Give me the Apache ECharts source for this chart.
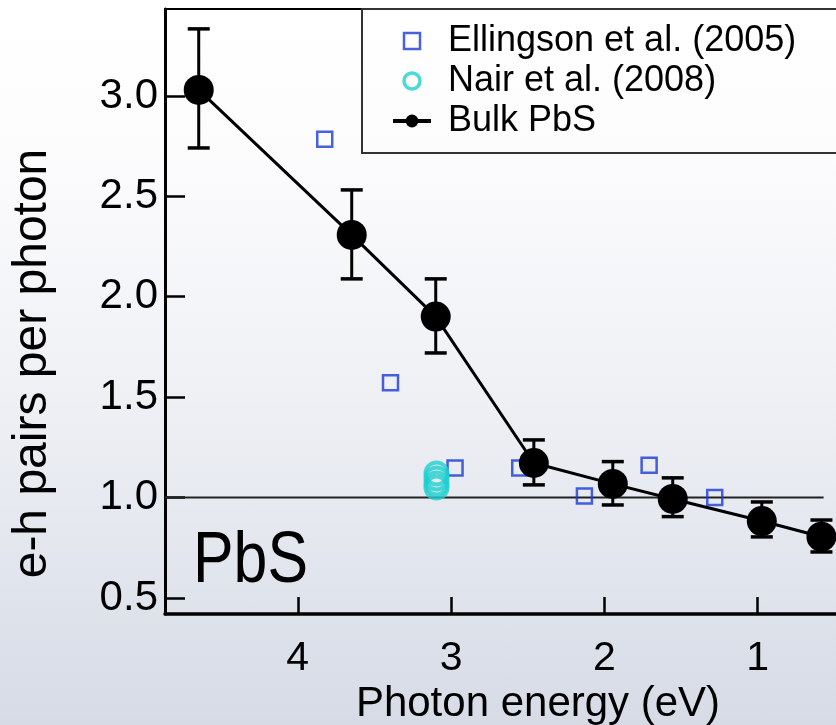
<!DOCTYPE html>
<html>
<head>
<meta charset="utf-8">
<script src="https://cdn.jsdelivr.net/npm/echarts@6/dist/echarts.min.js"></script>
<style>
  html, body { margin: 0; padding: 0; }
  body { background: linear-gradient(to bottom, #ffffff 0%, #fcfcfd 20%, #eef0f4 55%, #d6dbe6 100%); }
  #chart { width: 836px; height: 725px; }
</style>
</head>
<body>
<div id="chart"></div>
<script>
// ---- data ----
const bulkEnergy = [4.646, 3.648, 3.10, 2.46, 1.945, 1.554, 0.973, 0.584];
const bulkValue  = [3.03, 2.308, 1.901, 1.172, 1.068, 0.993, 0.883, 0.805];
const bulkHigh   = [3.334, 2.532, 2.089, 1.287, 1.179, 1.098, 0.978, 0.888];
const bulkLow    = [2.741, 2.089, 1.72, 1.063, 0.963, 0.905, 0.804, 0.729];

const ellingsonEnergy = [3.824, 3.395, 2.974, 2.552, 2.130, 1.708, 1.280];
const ellingsonValue  = [2.784, 1.572, 1.147, 1.147, 1.008, 1.161, 1.0];

const nairEnergy = [3.095, 3.095, 3.095, 3.095];
const nairValue  = [1.12, 1.095, 1.07, 1.05];

const unityEnergy = [4.87, 0.57];
const unityValue  = [1.0, 1.0];

const xTicks = [1, 2, 3, 4];
const yTicks = [0.5, 1.0, 1.5, 2.0, 2.5, 3.0];

const seriesNames = ['Ellingson et al. (2005)', 'Nair et al. (2008)', 'Bulk PbS'];
const xTitle = 'Photon energy (eV)';
const yTitle = 'e-h pairs per photon';
const panelLabel = 'PbS';

// ---- build ----
const zip = (a, b) => a.map((v, i) => [v, b[i]]);
const FONT = '"Liberation Sans", Arial, Helvetica, sans-serif';
const SQUARE = 'path://M0,0L10,0L10,10L0,10Z';
const BLUE = '#1a3ad6';
const CYAN = '#1ecfcf';

const chart = echarts.init(document.getElementById('chart'), null, { renderer: 'canvas' });

const option = {
  backgroundColor: 'transparent',
  animation: false,
  grid: { left: 165, right: 0, top: 9, bottom: 111, containLabel: false, outerBoundsMode: 'none' },
  xAxis: [{
    type: 'value', inverse: true, min: 0.489, max: 4.866,
    axisLine: { show: true, onZero: false, lineStyle: { color: '#000', width: 3.5 } },
    axisTick: { show: true, inside: true, length: 17, customValues: xTicks, lineStyle: { color: '#000', width: 2.5 } },
    axisLabel: { show: true, customValues: xTicks, margin: 24, fontSize: 41, color: '#000', fontFamily: FONT,
                 formatter: v => String(v) },
    splitLine: { show: false },
    name: xTitle, nameLocation: 'middle', nameGap: 67,
    nameTextStyle: { fontSize: 42, color: '#000', fontFamily: FONT, padding: [0, 0, 0, 75] }
  }, {
    type: 'value', position: 'top', inverse: true, min: 0.489, max: 4.866,
    axisLine: { show: true, onZero: false, lineStyle: { color: '#000', width: 2 } },
    axisTick: { show: false }, axisLabel: { show: false }, splitLine: { show: false }
  }],
  yAxis: {
    type: 'value', min: 0.42, max: 3.433,
    axisLine: { show: true, onZero: false, lineStyle: { color: '#000', width: 3 } },
    axisTick: { show: true, inside: true, length: 20, customValues: yTicks, lineStyle: { color: '#000', width: 2.5 } },
    axisLabel: { show: true, customValues: yTicks, margin: 7, fontSize: 42, color: '#000', fontFamily: FONT,
                 padding: [8, 0, 0, 0], formatter: v => v.toFixed(1) },
    splitLine: { show: false },
    name: yTitle, nameLocation: 'middle', nameRotate: 90, nameGap: 108,
    nameTextStyle: { fontSize: 48, color: '#000', fontFamily: FONT, padding: [0, 104, 0, 0] }
  },
  legend: {
    left: 362, top: 9, orient: 'vertical',
    padding: [14, 60, 14, 29], itemGap: 4, itemWidth: 38, itemHeight: 16,
    borderColor: '#333', borderWidth: 2, backgroundColor: 'transparent',
    symbolKeepAspect: true,
    textStyle: { fontSize: 36, color: '#000', fontFamily: FONT, padding: [0, 0, 0, 12] },
    data: [
      { name: seriesNames[0], icon: SQUARE, itemStyle: { color: 'rgba(0,0,0,0)', borderColor: BLUE, borderWidth: 2.5 } },
      { name: seriesNames[1], icon: 'path://M50,0A50,50,0,1,1,49.99,0Z', itemStyle: { color: 'rgba(0,0,0,0)', borderColor: CYAN, borderWidth: 3.5 } },
      { name: seriesNames[2], lineStyle: { width: 4 } }
    ]
  },
  graphic: [{
    type: 'text', left: 193, top: 526, silent: true, scaleX: 0.845, originX: 0,
    style: { text: panelLabel, fontSize: 72, fill: '#000', fontFamily: FONT }
  }],
  series: [
    {
      name: 'unity', type: 'line', data: zip(unityEnergy, unityValue), symbol: 'none', silent: true,
      lineStyle: { color: '#222', width: 2 }, z: 1
    },
    {
      name: seriesNames[0], type: 'scatter', data: zip(ellingsonEnergy, ellingsonValue),
      symbol: 'rect', symbolSize: 15, symbolKeepAspect: true,
      itemStyle: { color: 'rgba(0,0,0,0)', borderColor: BLUE, borderWidth: 2.5 }, z: 3
    },
    {
      name: seriesNames[1], type: 'scatter', data: zip(nairEnergy, nairValue),
      symbol: 'circle', symbolSize: 22, symbolKeepAspect: true,
      itemStyle: { color: 'rgba(0,0,0,0)', borderColor: CYAN, borderWidth: 4 }, z: 3
    },
    {
      name: 'errors', type: 'custom', z: 4, silent: true,
      data: bulkEnergy.map((x, i) => [x, bulkLow[i], bulkHigh[i]]),
      renderItem: function (params, api) {
        const x = api.value(0);
        const lo = api.coord([x, api.value(1)]);
        const hi = api.coord([x, api.value(2)]);
        const hw = 11;
        return {
          type: 'group',
          children: [
            { type: 'line', shape: { x1: lo[0], y1: lo[1], x2: hi[0], y2: hi[1] }, style: { stroke: '#000', lineWidth: 3 } },
            { type: 'line', shape: { x1: lo[0] - hw, y1: lo[1], x2: lo[0] + hw, y2: lo[1] }, style: { stroke: '#000', lineWidth: 3.5 } },
            { type: 'line', shape: { x1: hi[0] - hw, y1: hi[1], x2: hi[0] + hw, y2: hi[1] }, style: { stroke: '#000', lineWidth: 3.5 } }
          ]
        };
      }
    },
    {
      name: seriesNames[2], type: 'line', data: zip(bulkEnergy, bulkValue),
      symbol: 'circle', symbolSize: 30, showAllSymbol: true,
      lineStyle: { color: '#000', width: 3 }, itemStyle: { color: '#000' }, z: 5
    }
  ]
};
chart.setOption(option);
</script>
</body>
</html>
